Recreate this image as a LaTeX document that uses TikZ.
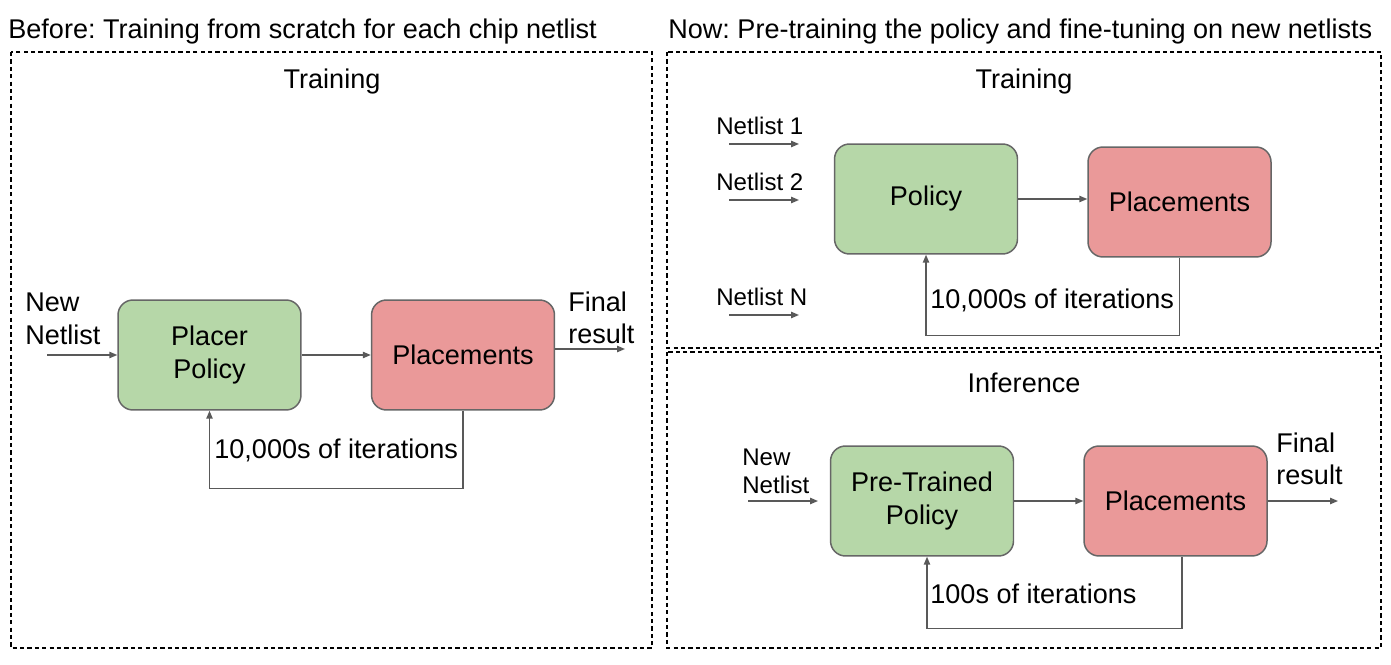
\documentclass[tikz,border=0pt]{standalone}
\usepackage{fontspec}
\setmainfont{Liberation Sans}
\frenchspacing
\usetikzlibrary{positioning, arrows.meta}
\definecolor{policy_fill}{HTML}{B6D7A8}
\definecolor{place_fill}{HTML}{EA9999}
\definecolor{box_border}{HTML}{666666}
\definecolor{flow_line}{HTML}{595959}

\begin{document}
\begin{tikzpicture}[x=0.02cm, y=-0.02cm,
    % Stili per i blocchi e le frecce
    block/.style = {
        rounded corners=0.3cm,
        draw=box_border,
        line width=0.85pt,
        minimum width=3.66cm,
        minimum height=2.2cm,
        align=center,
        font=\fontsize{15.4}{19}\selectfont
    },
    policy_block/.style = {block, fill=policy_fill},
    place_block/.style = {block, fill=place_fill},
    flow/.style = {
        draw=flow_line,
        line width=0.75pt,
        -{Triangle[length=4.5pt, width=3.6pt]}
    },
    frame/.style = {
        line width=0.85pt,
        dash pattern=on 2.4pt off 1.8pt
    },
    big_label/.style = {inner sep=0, align=left, font=\fontsize{15.4}{18.5}\selectfont},
    small_label/.style = {inner sep=0, align=left, font=\fontsize{13.7}{16}\selectfont}
]
\useasboundingbox (0,0) rectangle (1391,665);

% 1. Cornici tratteggiate e titoli
\draw[frame] (11,52) rectangle (652,648);
\draw[frame] (667,52) rectangle (1381,348);
\draw[frame] (667,352) rectangle (1381,648);
\node[big_label, anchor=west] (head_before) at (8,32) {Before: Training from scratch for each chip netlist};
\node[big_label, anchor=west] (head_now) at (668,32) {Now: Pre-training the policy and fine-tuning on new netlists};
\node[big_label] (title_left) at (332,82) {Training};
\node[big_label] (title_train) at (1024,82) {Training};
\node[big_label] (title_inf) at (1024,383) {Inference};

% 2. Schema a sinistra
\node[policy_block] (pol_left) at (209.5,355) {Placer\\Policy};
\node[place_block] (plc_left) at (463,355) {Placements};
\coordinate (in_left) at (47,355);
\coordinate (out_left) at (625,349);
\node[big_label, anchor=west] (new_left) at (25,319) {New\\Netlist};
\node[big_label, anchor=west] (final_left) at (568,318) {Final\\result};
\draw[flow] (in_left) -- (pol_left.west);
\draw[flow] (pol_left) -- (plc_left);
\draw[flow] (plc_left.east |- out_left) -- (out_left);
\draw[flow] (plc_left.south) -- ++(0,78) -| (pol_left.south);
\node[big_label, anchor=west] (iter_left) at (214,450) {10,000s of iterations};

% 3. Pre-training
\node[policy_block] (pol_train) at (926,199) {Policy};
\node[place_block] (plc_train) at (1179.5,202) {Placements};
\foreach \lbl/\yy [count=\i] in {Netlist 1/144, Netlist 2/200, Netlist N/315} {
    \node[small_label, anchor=west] (netlist\i) at (716,{\yy-18}) {\lbl};
    \coordinate (net_start\i) at (729,\yy);
    \coordinate (net_end\i) at (799,\yy);
    \draw[flow] (net_start\i) -- (net_end\i);
}
\draw[flow] (pol_train.east) -- (plc_train.west |- pol_train.east);
\draw[flow] (plc_train.south) -- ++(0,78) -| (pol_train.south);
\node[big_label, anchor=west] (iter_train) at (930,300) {10,000s of iterations};

% 4. Inferenza
\node[policy_block] (pol_inf) at (922,501) {Pre-Trained\\Policy};
\node[place_block] (plc_inf) at (1175.5,501) {Placements};
\coordinate (in_inf_a) at (748,501);
\coordinate (in_inf_b) at (818,501);
\coordinate (out_inf) at (1338,501);
\node[small_label, anchor=west] (new_inf) at (742,471) {New\\Netlist};
\node[big_label, anchor=west] (final_inf) at (1276,459) {Final\\result};
\draw[flow] (in_inf_a) -- (in_inf_b);
\draw[flow] (pol_inf) -- (plc_inf);
\draw[flow] (plc_inf.east) -- (out_inf);
\draw[flow] ([xshift=0.13cm]plc_inf.south) -- ++(0,72) -| ([xshift=0.1cm]pol_inf.south);
\node[big_label, anchor=west] (iter_inf) at (930,594) {100s of iterations};

\end{tikzpicture}
\end{document}
